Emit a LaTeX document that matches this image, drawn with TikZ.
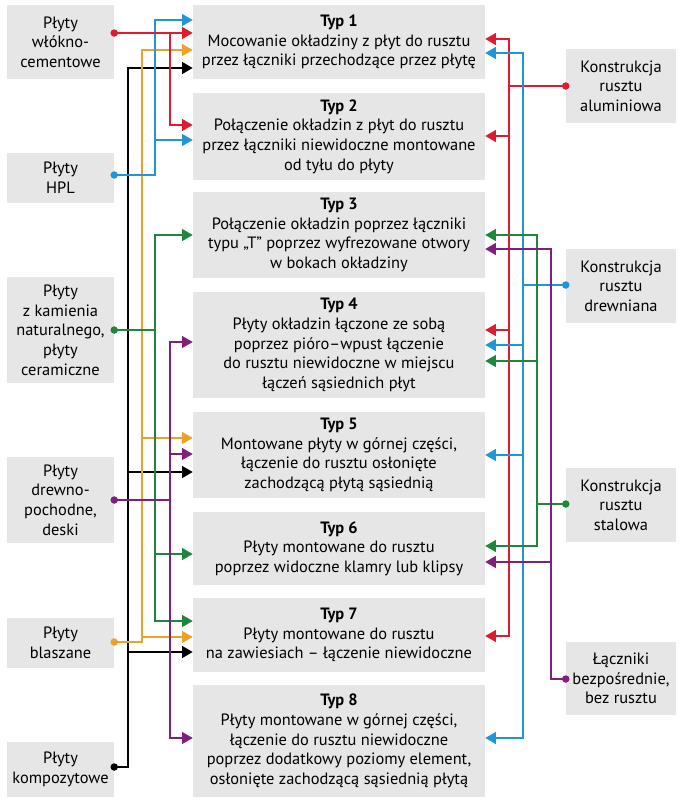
\documentclass[tikz,border=0pt]{standalone}
\usepackage{fontspec}
\setmainfont{PT Sans}
\usepackage{xcolor}
\usepackage{tikz}
\usetikzlibrary{arrows.meta, positioning}
\definecolor{boxgray}{RGB}{230, 230, 230}
\definecolor{linkred}{RGB}{222, 28, 48}
\definecolor{linkblue}{RGB}{30, 150, 215}
\definecolor{linkorange}{RGB}{238, 160, 40}
\definecolor{linkgreen}{RGB}{30, 135, 60}
\definecolor{linkpurple}{RGB}{130, 30, 125}

\begin{document}
\begin{tikzpicture}[
    x=0.03cm, y=-0.03cm,
    box/.style={fill=boxgray, align=center, inner sep=0pt, font=\fontsize{14}{16.8}\selectfont},
    leftbox/.style={box, minimum width=3.21cm},
    typbox/.style={box, minimum width=8.76cm},
    rightbox/.style={box, minimum width=3.3cm},
    link/.style={line width=1.4pt},
    arrow/.style={link, -{Triangle[length=9pt, width=10pt]}},
    twoway/.style={link, {Triangle[length=9pt, width=10pt]}-{Triangle[length=9pt, width=10pt]}},
    dotted end/.style={radius=3.2pt}
]
    \useasboundingbox (0,0) rectangle (683,800);

    % Materials (left)
    \node[leftbox, minimum height=2.22cm] (lw) at (60.5,42) {Płyty\\ włókno-\\ cementowe};
    \node[leftbox, minimum height=1.5cm] (lh) at (60.5,178) {Płyty\\ HPL};
    \node[leftbox, minimum height=3.18cm] (lk) at (60.5,330) {Płyty\\ z kamienia\\ naturalnego,\\ płyty\\ ceramiczne};
    \node[leftbox, minimum height=2.58cm] (ld) at (60.5,500) {Płyty\\ drewno-\\ pochodne,\\ deski};
    \node[leftbox, minimum height=1.5cm] (lb) at (60.5,643) {Płyty\\ blaszane};
    \node[leftbox, minimum height=1.65cm] (lc) at (60.5,769.5) {Płyty\\ kompozytowe};

    % Types (middle)
    \node[typbox, minimum height=2.22cm] (t1) at (339,42) {\textbf{Typ 1}\\ Mocowanie okładziny z płyt do rusztu\\ przez łączniki przechodzące przez płytę};
    \node[typbox, minimum height=2.61cm] (t2) at (339,136.5) {\textbf{Typ 2}\\ Połączenie okładzin z płyt do rusztu\\ przez łączniki niewidoczne montowane\\ od tyłu do płyty};
    \node[typbox, minimum height=2.58cm] (t3) at (339,235) {\textbf{Typ 3}\\ Połączenie okładzin poprzez łączniki\\ typu „T” poprzez wyfrezowane otwory\\ w bokach okładziny};
    \node[typbox, minimum height=3.18cm] (t4) at (339,345) {\textbf{Typ 4}\\ Płyty okładzin łączone ze sobą\\ poprzez pióro–wpust łączenie\\ do rusztu niewidoczne w miejscu\\ łączeń sąsiednich płyt};
    \node[typbox, minimum height=2.58cm] (t5) at (339,455) {\textbf{Typ 5}\\ Montowane płyty w górnej części,\\ łączenie do rusztu osłonięte\\ zachodzącą płytą sąsiednią};
    \node[typbox, minimum height=2.19cm] (t6) at (339,548.5) {\textbf{Typ 6}\\ Płyty montowane do rusztu\\ poprzez widoczne klamry lub klipsy};
    \node[typbox, minimum height=2.22cm] (t7) at (339,635) {\textbf{Typ 7}\\ Płyty montowane do rusztu\\ na zawiesiach – łączenie niewidoczne};
    \node[typbox, minimum height=3.36cm] (t8) at (339,741) {\textbf{Typ 8}\\ Płyty montowane w górnej części,\\ łączenie do rusztu niewidoczne\\ poprzez dodatkowy poziomy element,\\ osłonięte zachodzącą sąsiednią płytą};

    % Substructures (right)
    \node[rightbox, minimum height=2.22cm] (ra) at (621,86) {Konstrukcja\\ rusztu\\ aluminiowa};
    \node[rightbox, minimum height=2.22cm] (rd) at (621,286) {Konstrukcja\\ rusztu\\ drewniana};
    \node[rightbox, minimum height=2.22cm] (rs) at (621,505) {Konstrukcja\\ rusztu\\ stalowa};
    \node[rightbox, minimum height=2.19cm] (rl) at (621,678.5) {Łączniki\\ bezpośrednie,\\ bez rusztu};

    % Left connections
    \draw[arrow, black] (lc.east |- 0,767) -| (128,68) -- (t1.west |- 0,68);
    \foreach \t/\y in {t5/472, t7/652}
        \draw[arrow, black] (128,\y) -- (\t.west |- 0,\y);
    \draw[arrow, linkorange] (lb.east |- 0,642) -| (142,50) -- (t1.west |- 0,50);
    \foreach \t/\y in {t5/438, t7/637}
        \draw[arrow, linkorange] (142,\y) -- (\t.west |- 0,\y);
    \draw[arrow, linkblue] (lh.east |- 0,175) -| (155,20) -- (t1.west |- 0,20);
    \draw[arrow, linkblue] (155,140) -- (t2.west |- 0,140);
    \draw[twoway, linkgreen] (t3.west |- 0,235) -| (155,621) -- (t7.west |- 0,621);
    \draw[arrow, linkgreen] (155,554) -- (t6.west |- 0,554);
    \draw[link, linkgreen] (lk.east |- 0,330) -- (155,330);
    \draw[arrow, linkred] (lw.east |- 0,33) -- (t1.west |- 0,33);
    \draw[arrow, linkred] (170,33) |- (t2.west |- 0,125);
    \draw[twoway, linkpurple] (t4.west |- 0,342) -| (170,738) -- (t8.west |- 0,738);
    \draw[arrow, linkpurple] (170,454) -- (t5.west |- 0,454);
    \draw[link, linkpurple] (ld.east |- 0,500) -- (170,500);

    % Right connections
    \draw[twoway, linkred] (t1.east |- 0,39) -| (509,636) -- (t7.east |- 0,636);
    \foreach \t/\y in {t2/136, t4/330}
        \draw[arrow, linkred] (509,\y) -- (\t.east |- 0,\y);
    \draw[link, linkred] (ra.west |- 0,86) -- (509,86);
    \draw[twoway, linkblue] (t1.east |- 0,53) -| (523,738) -- (t8.east |- 0,738);
    \foreach \t/\y in {t4/345, t5/455}
        \draw[arrow, linkblue] (523,\y) -- (\t.east |- 0,\y);
    \draw[link, linkblue] (rd.west |- 0,285) -- (523,285);
    \draw[twoway, linkgreen] (t3.east |- 0,235) -| (537,546) -- (t6.east |- 0,546);
    \draw[arrow, linkgreen] (537,361) -- (t4.east |- 0,361);
    \draw[link, linkgreen] (rs.west |- 0,504) -- (537,504);
    \draw[arrow, linkpurple] (rl.west |- 0,679) -| (551,249) -- (t3.east |- 0,249);
    \draw[arrow, linkpurple] (551,562) -- (t6.east |- 0,562);

    % End dots
    \fill[linkred] (lw.east |- 0,33) circle[dotted end];
    \fill[linkblue] (lh.east |- 0,175) circle[dotted end];
    \fill[linkgreen] (lk.east |- 0,330) circle[dotted end];
    \fill[linkpurple] (ld.east |- 0,500) circle[dotted end];
    \fill[linkorange] (lb.east |- 0,642) circle[dotted end];
    \fill[black] (lc.east |- 0,767) circle[dotted end];
    \fill[linkred] (ra.west |- 0,86) circle[dotted end];
    \fill[linkblue] (rd.west |- 0,285) circle[dotted end];
    \fill[linkgreen] (rs.west |- 0,504) circle[dotted end];
    \fill[linkpurple] (rl.west |- 0,679) circle[dotted end];

\end{tikzpicture}
\end{document}
